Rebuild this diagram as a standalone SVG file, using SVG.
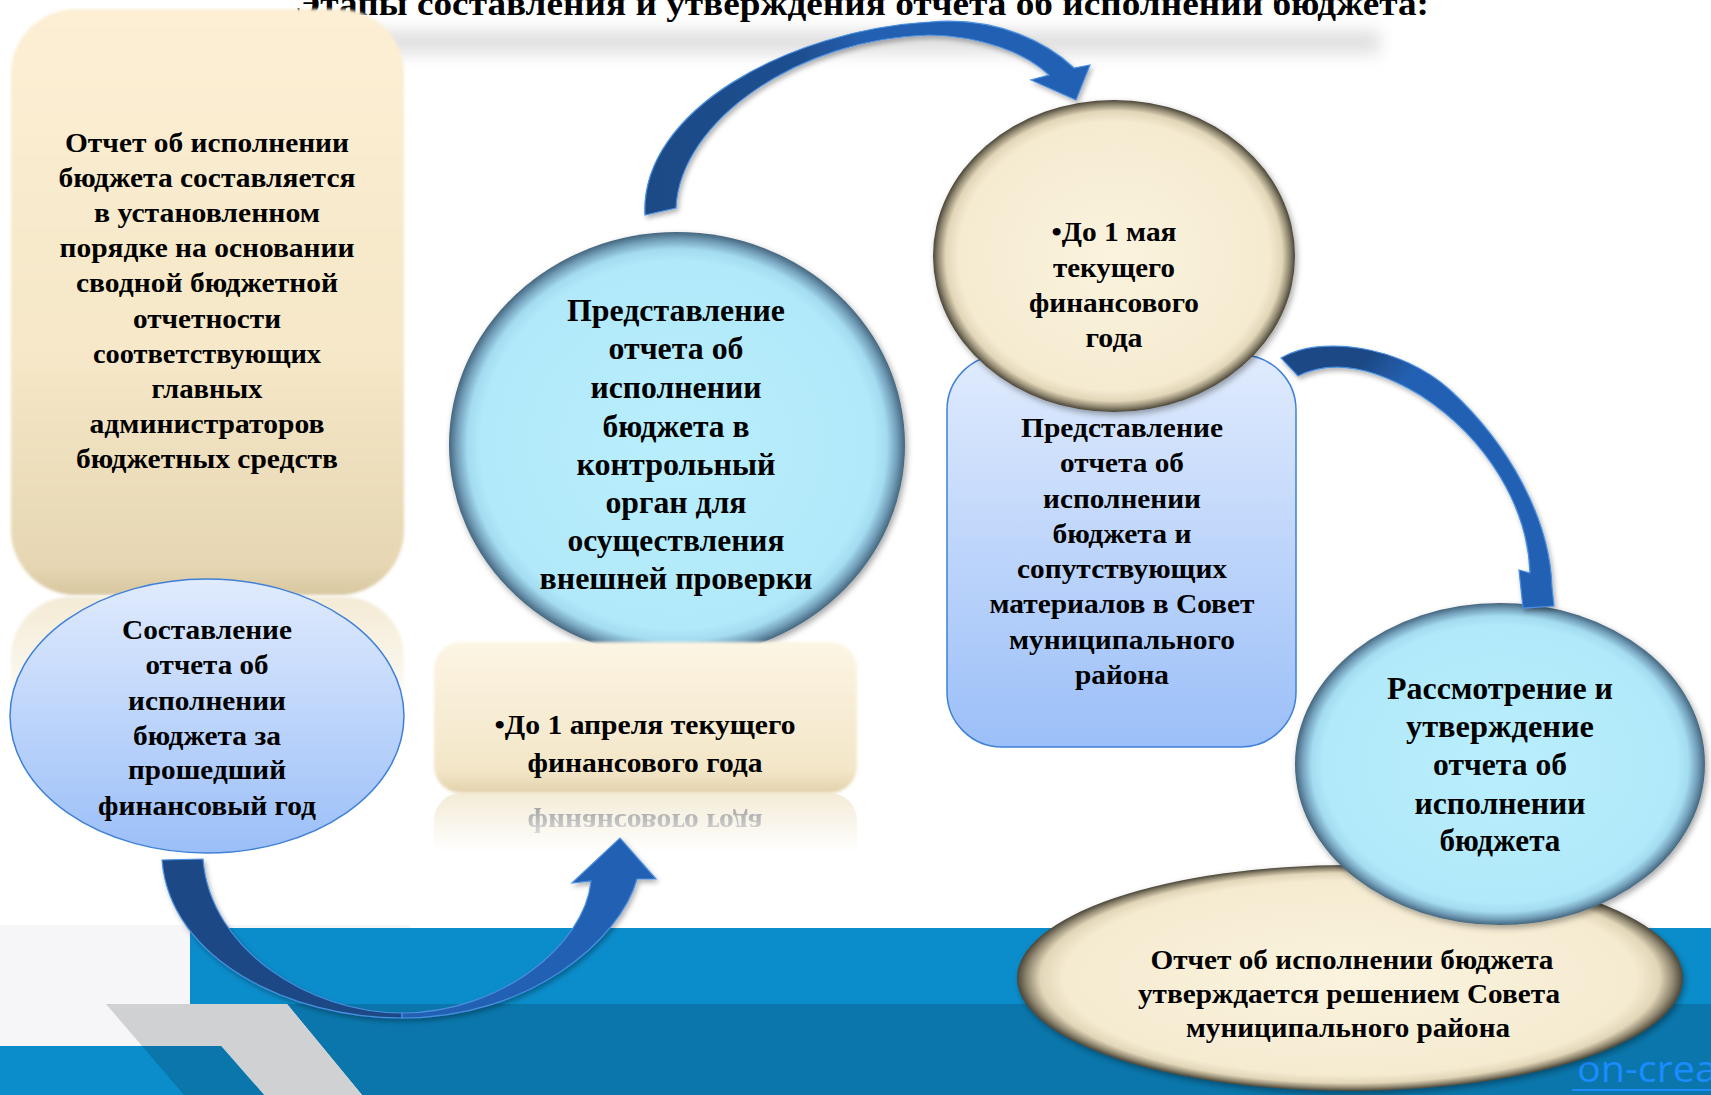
<svg xmlns="http://www.w3.org/2000/svg" width="1711" height="1095" viewBox="0 0 1711 1095">
<defs>
<style>
.t{font-family:"Liberation Serif","Times New Roman",serif;font-weight:bold;fill:#000;text-anchor:middle}
.f28{font-size:28px}.f31{font-size:31px}.f27{font-size:27px}
.arr{stroke:#4a8fe0;stroke-width:1.2}
</style>
<linearGradient id="beigeRect" x1="0" y1="0" x2="0" y2="1">
<stop offset="0" stop-color="#fcefd4"/><stop offset="0.6" stop-color="#f5e7c7"/><stop offset="0.95" stop-color="#e6d6b2"/><stop offset="1" stop-color="#d8c7a0"/>
</linearGradient>
<linearGradient id="beigeApr" x1="0" y1="0" x2="0" y2="1">
<stop offset="0" stop-color="#fcf5e4"/><stop offset="0.85" stop-color="#f3e6c8"/><stop offset="1" stop-color="#e2d1ab"/>
</linearGradient>
<linearGradient id="blueBox" x1="0" y1="0" x2="0" y2="1">
<stop offset="0" stop-color="#e0ebfd"/><stop offset="1" stop-color="#9bbff8"/>
</linearGradient>
<radialGradient id="cyanBall" cx="0.5" cy="0.5" r="0.5">
<stop offset="0" stop-color="#b8eefc"/><stop offset="0.86" stop-color="#b2e9fa"/><stop offset="0.92" stop-color="#a3dbf0"/><stop offset="0.965" stop-color="#739fba"/><stop offset="1" stop-color="#45667e"/>
</radialGradient>
<radialGradient id="beigeBall" cx="0.5" cy="0.5" r="0.5">
<stop offset="0" stop-color="#fbf3de"/><stop offset="0.86" stop-color="#f5ebd1"/><stop offset="0.93" stop-color="#e2d6b8"/><stop offset="0.97" stop-color="#938a73"/><stop offset="1" stop-color="#4a4538"/>
</radialGradient>
<linearGradient id="gB" gradientUnits="userSpaceOnUse" x1="645" y1="0" x2="1090" y2="0">
<stop offset="0" stop-color="#1d4a86"/><stop offset="0.35" stop-color="#1f4f90"/><stop offset="0.5" stop-color="#2461b3"/><stop offset="1" stop-color="#2461b3"/>
</linearGradient>
<linearGradient id="gC" gradientUnits="userSpaceOnUse" x1="1281" y1="358" x2="1552" y2="600">
<stop offset="0" stop-color="#1d4a86"/><stop offset="0.18" stop-color="#1d4a86"/><stop offset="0.3" stop-color="#2461b3"/><stop offset="1" stop-color="#2461b3"/>
</linearGradient>
<linearGradient id="fade" x1="0" y1="0" x2="0" y2="1">
<stop offset="0" stop-color="#fff" stop-opacity="0.7"/><stop offset="1" stop-color="#fff" stop-opacity="0"/>
</linearGradient>
<mask id="mApr" maskUnits="userSpaceOnUse" x="420" y="793" width="450" height="60">
<rect x="420" y="793" width="450" height="60" fill="url(#fade)"/>
</mask>
<mask id="mLeft" maskUnits="userSpaceOnUse" x="0" y="595" width="420" height="140">
<rect x="0" y="595" width="420" height="140" fill="url(#fade)"/>
</mask>
<filter id="soft" x="-5%" y="-5%" width="110%" height="110%"><feGaussianBlur stdDeviation="1.8"/></filter>
<filter id="blur8" x="-20%" y="-100%" width="140%" height="300%"><feGaussianBlur stdDeviation="8"/></filter>
<filter id="sh" x="-10%" y="-10%" width="120%" height="125%"><feDropShadow dx="2" dy="3" stdDeviation="3" flood-color="#000" flood-opacity="0.35"/></filter>
<filter id="ash" x="-10%" y="-10%" width="120%" height="125%"><feDropShadow dx="2" dy="3" stdDeviation="2.5" flood-color="#000" flood-opacity="0.3"/></filter>
</defs>

<g id="background">
<rect width="1711" height="1095" fill="#fff"/>
<rect x="0" y="925" width="410" height="170" fill="#f6f6f8"/>
<rect x="190" y="928" width="1521" height="76" fill="#0b8dcb"/>
<polygon points="287,1004 1711,1004 1711,1095 362,1095" fill="#0a76ab"/>
<polygon points="106,1004 287,1004 362,1095 184,1095" fill="#d0d1d3"/>
<polygon points="0,1046 221,1046 264,1095 0,1095" fill="#0b8ccb"/>
<polygon points="142,1046 221,1046 264,1095 184,1095" fill="#0a76ac"/>
<text x="1577" y="1082" font-family="Open Sans, sans-serif" font-size="36" fill="#1a8cff" textLength="140" lengthAdjust="spacingAndGlyphs">on-crea</text>
<line x1="1572" y1="1090" x2="1711" y2="1090" stroke="#1a8cff" stroke-width="2"/>
</g>

<g id="title">
<rect x="270" y="30" width="1110" height="24" fill="#c8c8c8" opacity="0.55" filter="url(#blur8)"/>
<text class="t" x="862" y="15" font-size="34" textLength="1134" lengthAdjust="spacingAndGlyphs">Этапы составления и утверждения отчета об исполнении бюджета:</text>
</g>

<g id="node-report-compiled">
<rect x="11" y="9" width="393" height="586" rx="65" fill="url(#beigeRect)" filter="url(#soft)"/>
<g mask="url(#mLeft)"><rect x="11" y="597" width="393" height="140" rx="60" fill="#efe2c2" filter="url(#soft)"/></g>
<text class="t f28" x="207" y="152" textLength="284" lengthAdjust="spacingAndGlyphs">Отчет об исполнении</text>
<text class="t f28" x="207" y="187" textLength="297" lengthAdjust="spacingAndGlyphs">бюджета составляется</text>
<text class="t f28" x="207" y="222" textLength="226" lengthAdjust="spacingAndGlyphs">в установленном</text>
<text class="t f28" x="207" y="257" textLength="295" lengthAdjust="spacingAndGlyphs">порядке на основании</text>
<text class="t f28" x="207" y="292" textLength="262" lengthAdjust="spacingAndGlyphs">сводной бюджетной</text>
<text class="t f28" x="207" y="328" textLength="148" lengthAdjust="spacingAndGlyphs">отчетности</text>
<text class="t f28" x="207" y="363" textLength="228" lengthAdjust="spacingAndGlyphs">соответствующих</text>
<text class="t f28" x="207" y="398" textLength="111" lengthAdjust="spacingAndGlyphs">главных</text>
<text class="t f28" x="207" y="433" textLength="235" lengthAdjust="spacingAndGlyphs">администраторов</text>
<text class="t f28" x="207" y="468" textLength="262" lengthAdjust="spacingAndGlyphs">бюджетных средств</text>
</g>

<g id="node-compile">
<ellipse cx="207" cy="716" rx="197" ry="137" fill="url(#blueBox)" stroke="#3f80d8" stroke-width="1.5"/>
<text class="t f28" x="207" y="639" textLength="170" lengthAdjust="spacingAndGlyphs">Составление</text>
<text class="t f28" x="207" y="674" textLength="123" lengthAdjust="spacingAndGlyphs">отчета об</text>
<text class="t f28" x="207" y="710" textLength="158" lengthAdjust="spacingAndGlyphs">исполнении</text>
<text class="t f28" x="207" y="745" textLength="148" lengthAdjust="spacingAndGlyphs">бюджета за</text>
<text class="t f28" x="207" y="779" textLength="158" lengthAdjust="spacingAndGlyphs">прошедший</text>
<text class="t f28" x="207" y="815" textLength="218" lengthAdjust="spacingAndGlyphs">финансовый год</text>
</g>

<g id="node-submit-control">
<ellipse cx="677" cy="445" rx="228" ry="213" fill="url(#cyanBall)" filter="url(#sh)"/>
<text class="t f31" x="676" y="321" textLength="218" lengthAdjust="spacingAndGlyphs">Представление</text>
<text class="t f31" x="676" y="359" textLength="135" lengthAdjust="spacingAndGlyphs">отчета об</text>
<text class="t f31" x="676" y="398" textLength="171" lengthAdjust="spacingAndGlyphs">исполнении</text>
<text class="t f31" x="676" y="437" textLength="147" lengthAdjust="spacingAndGlyphs">бюджета в</text>
<text class="t f31" x="676" y="475" textLength="199" lengthAdjust="spacingAndGlyphs">контрольный</text>
<text class="t f31" x="676" y="513" textLength="141" lengthAdjust="spacingAndGlyphs">орган для</text>
<text class="t f31" x="676" y="551" textLength="217" lengthAdjust="spacingAndGlyphs">осуществления</text>
<text class="t f31" x="676" y="589" textLength="273" lengthAdjust="spacingAndGlyphs">внешней проверки</text>
</g>

<g id="node-april">
<rect x="434" y="642" width="423" height="151" rx="27" fill="url(#beigeApr)" filter="url(#soft)"/>
<g mask="url(#mApr)">
<g transform="translate(0,1586) scale(1,-1)">
<rect x="434" y="642" width="423" height="151" rx="27" fill="#efe3c6"/>
<text class="t f28" x="645" y="772" textLength="235" lengthAdjust="spacingAndGlyphs" style="fill:#555">финансового года</text>
</g>
</g>
<text class="t f28" x="645" y="734" textLength="301" lengthAdjust="spacingAndGlyphs">•До 1 апреля текущего</text>
<text class="t f28" x="645" y="772" textLength="235" lengthAdjust="spacingAndGlyphs">финансового года</text>
</g>

<g id="node-submit-council">
<rect x="947" y="355" width="349" height="392" rx="55" fill="url(#blueBox)" stroke="#3f80d8" stroke-width="1.5"/>
<text class="t f28" x="1122" y="437" textLength="202" lengthAdjust="spacingAndGlyphs">Представление</text>
<text class="t f28" x="1122" y="472" textLength="124" lengthAdjust="spacingAndGlyphs">отчета об</text>
<text class="t f28" x="1122" y="508" textLength="158" lengthAdjust="spacingAndGlyphs">исполнении</text>
<text class="t f28" x="1122" y="543" textLength="139" lengthAdjust="spacingAndGlyphs">бюджета и</text>
<text class="t f28" x="1122" y="578" textLength="210" lengthAdjust="spacingAndGlyphs">сопутствующих</text>
<text class="t f28" x="1122" y="613" textLength="265" lengthAdjust="spacingAndGlyphs">материалов в Совет</text>
<text class="t f28" x="1122" y="649" textLength="226" lengthAdjust="spacingAndGlyphs">муниципального</text>
<text class="t f28" x="1122" y="684" textLength="94" lengthAdjust="spacingAndGlyphs">района</text>
</g>

<g id="node-may">
<ellipse cx="1114" cy="256" rx="181" ry="156" fill="url(#beigeBall)" filter="url(#sh)"/>
<text class="t f28" x="1114" y="241" textLength="125" lengthAdjust="spacingAndGlyphs">•До 1 мая</text>
<text class="t f28" x="1114" y="277" textLength="122" lengthAdjust="spacingAndGlyphs">текущего</text>
<text class="t f28" x="1114" y="312" textLength="170" lengthAdjust="spacingAndGlyphs">финансового</text>
<text class="t f28" x="1114" y="347" textLength="57" lengthAdjust="spacingAndGlyphs">года</text>
</g>

<g id="node-approved">
<ellipse cx="1350" cy="978" rx="333" ry="113" fill="url(#beigeBall)" filter="url(#sh)"/>
<text x="1141" y="969" font-family="Liberation Serif, serif" font-size="20" fill="#f3ecd8">•</text>
<text class="t f27" x="1352" y="969" textLength="403" lengthAdjust="spacingAndGlyphs">Отчет об исполнении бюджета</text>
<text class="t f27" x="1349" y="1003" textLength="422" lengthAdjust="spacingAndGlyphs">утверждается решением Совета</text>
<text class="t f27" x="1348" y="1037" textLength="324" lengthAdjust="spacingAndGlyphs">муниципального района</text>
</g>

<g id="node-review">
<ellipse cx="1500" cy="764" rx="205" ry="161" fill="url(#cyanBall)" filter="url(#sh)"/>
<text class="t f31" x="1500" y="699" textLength="226" lengthAdjust="spacingAndGlyphs">Рассмотрение и</text>
<text class="t f31" x="1500" y="737" textLength="188" lengthAdjust="spacingAndGlyphs">утверждение</text>
<text class="t f31" x="1500" y="775" textLength="134" lengthAdjust="spacingAndGlyphs">отчета об</text>
<text class="t f31" x="1500" y="814" textLength="171" lengthAdjust="spacingAndGlyphs">исполнении</text>
<text class="t f31" x="1500" y="851" textLength="121" lengthAdjust="spacingAndGlyphs">бюджета</text>
</g>

<g id="connectors" filter="url(#ash)">
<path class="arr" fill="#1d4a86" d="M162,860 C170,960 290,1018 402,1018 L402,1013 C310,1013 210,950 203,859 Z"/>
<path class="arr" fill="#2461b3" d="M402,1018 C530,1018 620,940 637,879 L656,879 L620,838 L572,883 L591,881 C585,945 500,1013 402,1013 Z"/>
<path class="arr" fill="url(#gB)" d="M645,215 C640,110 790,30 930,22 C1000,16 1050,45 1074,68 L1090,65 L1076,100 L1031,80 L1049,75 C1025,52 980,36 930,35 C800,38 680,120 676,208 Z"/>
<path class="arr" fill="url(#gC)" d="M1281,358 C1320,335 1400,345 1450,390 C1510,445 1550,520 1552,587 L1554,606 L1523,608 L1519,570 L1530,573 C1528,510 1490,440 1420,395 C1370,365 1330,360 1298,376 Z"/>
</g>
</svg>
